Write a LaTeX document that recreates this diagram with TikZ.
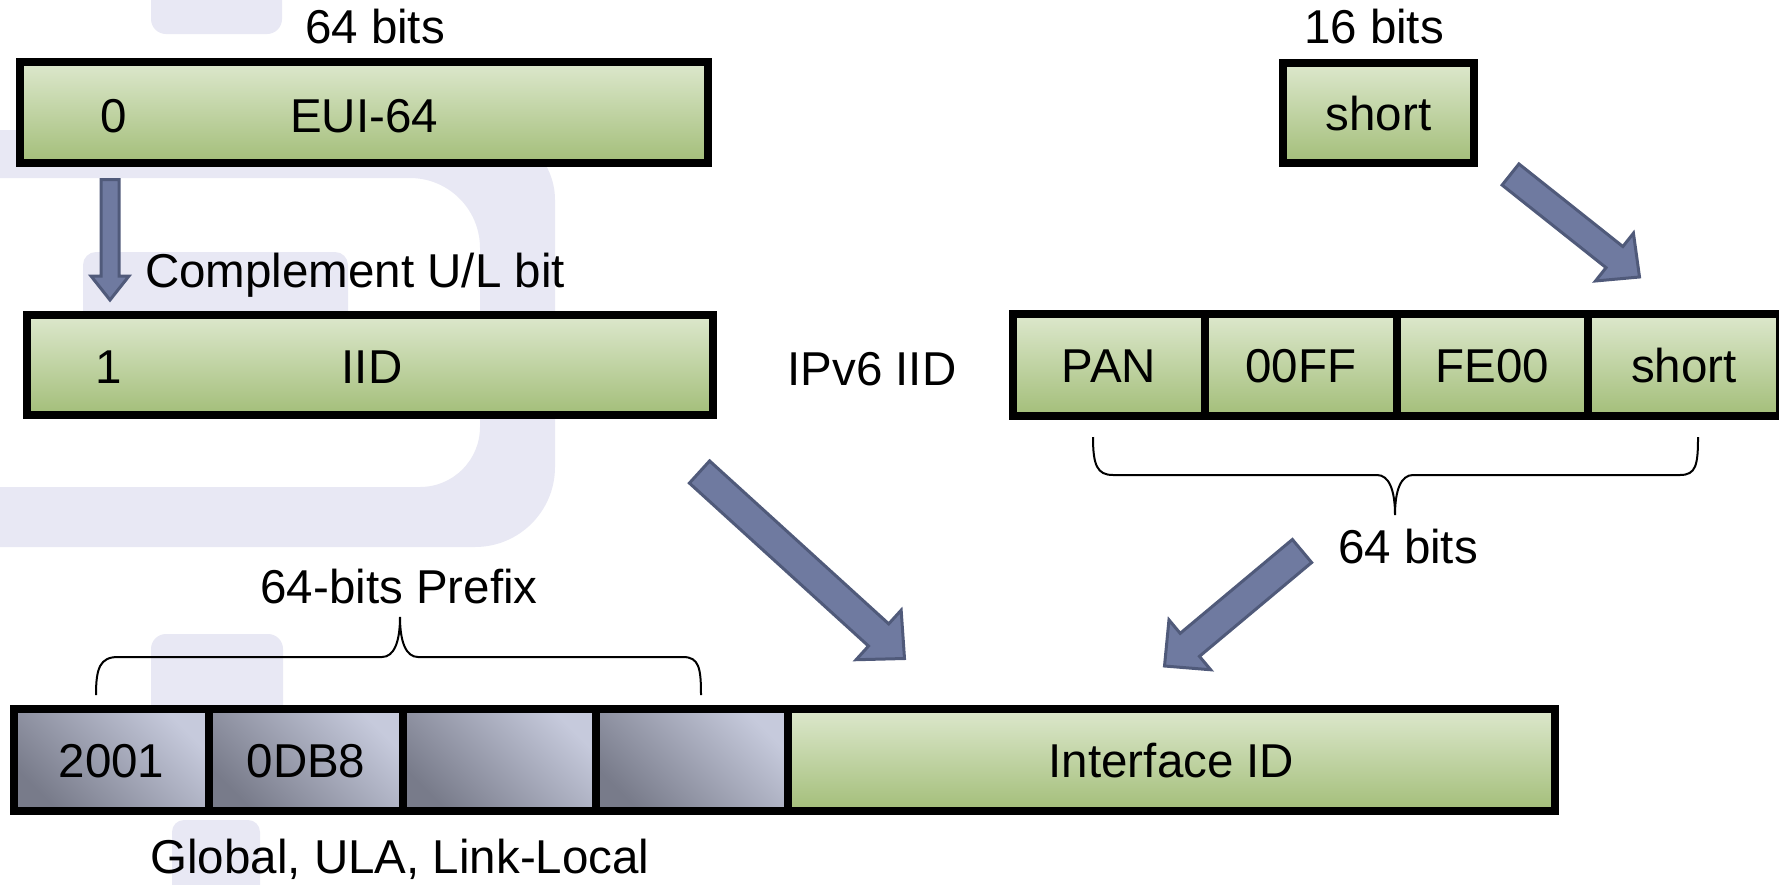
\documentclass[tikz,border=0pt]{standalone}
\usepackage{fontspec}
\setmainfont{Liberation Sans}
\usetikzlibrary{calc}

\definecolor{wmark}{RGB}{232,232,244}
\definecolor{greentop}{RGB}{221,232,205}
\definecolor{greenbot}{RGB}{163,190,121}
\definecolor{graylight}{RGB}{198,202,220}
\definecolor{graydark}{RGB}{120,123,138}
\definecolor{arrowfill}{RGB}{111,122,160}
\definecolor{arrowline}{RGB}{80,90,122}

% block arrow: tail, tip, shaft half-width, head half-width, head length
\newcommand\drawblockarrow[5]{%
  \coordinate (ba-base) at ($(#2)!#5!(#1)$);
  \path[fatarrow] ($(#1)!#3!90:(#2)$) -- ($(ba-base)!#3!-90:(#1)$)
    -- ($(ba-base)!#4!-90:(#1)$) -- (#2) -- ($(ba-base)!#4!90:(#1)$)
    -- ($(ba-base)!#3!90:(#1)$) -- ($(#1)!#3!-90:(#2)$) -- cycle;
}

\tikzset{
  fatarrow/.style={fill=arrowfill, draw=arrowline, line width=3pt, line join=miter},
  greencell/.style={draw=black, line width=8pt, top color=greentop, bottom color=greenbot,
    inner sep=0pt, text height=34pt, text depth=0pt},
  graycell/.style={draw=black, line width=8pt, top color=graylight, bottom color=graydark,
    shading angle=-45, inner sep=0pt, text height=34pt, text depth=0pt},
  lbl/.style={inner sep=0pt, anchor=base},
  bracepath/.style={draw=black, line width=2pt},
}

\begin{document}
\begin{tikzpicture}[x=1pt, y=-1pt, font=\fontsize{47.5pt}{57pt}\selectfont]
\useasboundingbox (0,0) rectangle (1779,884);
\clip (0,0) rectangle (1779,884);
\fill[white] (0,0) rectangle (1779,884);

% faint background emblem
\fill[wmark, rounded corners=15pt] (151,-30) rectangle (282,34);
\fill[wmark, even odd rule]
  (-60,130) -- (485,130) arc[start angle=-90, end angle=0, radius=70]
  -- (555,467) arc[start angle=0, end angle=90, radius=80] -- (-60,547) -- cycle
  (-60,487) -- (-60,178) -- (410,178) arc[start angle=-90, end angle=0, radius=70]
  -- (480,427) arc[start angle=0, end angle=90, radius=60] -- cycle;
\fill[wmark, rounded corners=13pt] (83,252) rectangle (348,410);
\fill[wmark, rounded corners=15pt] (151,634) rectangle (283,730);
\fill[wmark, rounded corners=12pt] (172,820) rectangle (260,920);

% EUI-64 and derived IID
\node[greencell, minimum width=688pt, minimum height=101pt] (eui) at (364,112.5) {};
\node[lbl] (t64) at (375,43) {64 bits};
\node[lbl] (eui0) at (114,132) {0};
\node[lbl] (euit) at (364,132) {EUI-64};
\node[greencell, minimum width=686pt, minimum height=100pt] (iid) at (370,365) {};
\node[lbl] (iid1) at (109,383) {1};
\node[lbl] (iidt) at (372,383) {IID};
\node[lbl, anchor=base west] (comp) at (145,287) {Complement U/L bit};

% 16-bit short address
\node[greencell, minimum width=191pt, minimum height=100pt] (shortsrc) at (1378.5,113) {short};
\node[lbl] (t16) at (1374,43) {16 bits};

% IID built from PAN and short address
\node[lbl] (ipv6) at (872,385) {IPv6 IID};
\node[greencell, minimum width=192pt, minimum height=102pt] (pan) at (1109,365) {PAN};
\node[greencell, minimum width=192pt, minimum height=102pt] (c00ff) at (1301,365) {00FF};
\node[greencell, minimum width=191pt, minimum height=102pt] (cfe00) at (1492.5,365) {FE00};
\node[greencell, minimum width=192pt, minimum height=102pt] (cshort) at (1684,365) {short};
\node[lbl] (r64) at (1408,563) {64 bits};

% full IPv6 address
\node[graycell, minimum width=195pt, minimum height=102pt] (p1) at (111.5,760) {2001};
\node[graycell, minimum width=194pt, minimum height=102pt] (p2) at (306,760) {0DB8};
\node[graycell, minimum width=193pt, minimum height=102pt] (p3) at (499.5,760) {};
\node[graycell, minimum width=192pt, minimum height=102pt] (p4) at (692,760) {};
\node[greencell, minimum width=767pt, minimum height=102pt] (iface) at (1171.5,760) {Interface ID};
\node[lbl] (pfx) at (399,603) {64-bits Prefix};
\node[lbl] (glob) at (400,873) {Global, ULA, Link-Local};

% braces
\path[bracepath] (96,695) .. controls (96,668) and (100,657) .. (118,657) -- (382,657)
  .. controls (394,657) and (400,642) .. (400,617)
  .. controls (400,642) and (406,657) .. (418,657) -- (683,657)
  .. controls (699,657) and (701,668) .. (701,695);
\path[bracepath] (1093,437) .. controls (1093,465) and (1097,475) .. (1113,475) -- (1377,475)
  .. controls (1389,475) and (1395,490) .. (1395,515)
  .. controls (1395,490) and (1401,475) .. (1413,475) -- (1680,475)
  .. controls (1696,475) and (1698,465) .. (1698,437);

% block arrows
\coordinate (a1s) at (110,179.5);
\coordinate (a1e) at (110,300);
\coordinate (a2s) at (1510.5,174.5);
\coordinate (a2e) at (1639.5,277);
\coordinate (a3s) at (699.5,472);
\coordinate (a3e) at (904.5,658.5);
\coordinate (a4s) at (1302,551);
\coordinate (a4e) at (1164.5,666);
\drawblockarrow{a1s}{a1e}{9pt}{19pt}{24pt}
\drawblockarrow{a2s}{a2e}{13.5pt}{30.5pt}{32pt}
\drawblockarrow{a3s}{a3e}{15pt}{33.5pt}{35pt}
\drawblockarrow{a4s}{a4e}{15pt}{32.5pt}{33pt}
\end{tikzpicture}
\end{document}
